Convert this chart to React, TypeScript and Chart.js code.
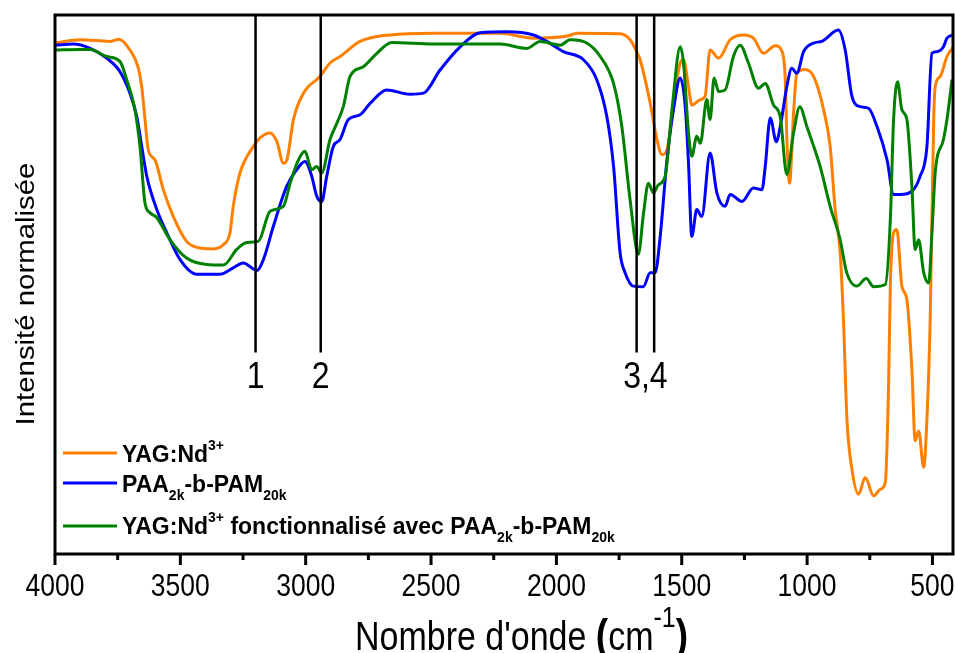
import React, { useEffect, useRef } from 'react';
import { Chart, registerables } from 'chart.js';

Chart.register(...registerables);

// ---------- data (wavenumber in cm-1, normalized intensity 0-100) ----------
const yagWavenumbers = [4000,3900,3781,3745,3701,3669,3654,3641,3628,3601,3568,3528,3475,3435,3368,3328,3302,3289,3262,3209,3182,3142,3115,3089,3075,3049,3009,2943,2903,2863,2783,2663,2492,2224,2093,1957,1917,1746,1706,1678,1666,1626,1599,1579,1559,1533,1506,1493,1473,1460,1426,1407,1387,1353,1307,1254,1214,1174,1127,1100,1087,1081,1070,1054,1041,1008,974,934,908,888,868,855,841,821,795,768,735,708,688,675,668,655,642,622,602,582,569,555,535,522,509,495,489,469,442,416];
const yagIntensity = [94.8,95.4,95.1,95.5,93.5,90.4,86.7,80.6,75.0,73.1,67.6,62.6,58.0,56.9,56.6,57.4,59.6,64.5,70.7,75.6,77.2,78.1,76.5,72.5,73.1,80.6,85.5,88.6,91.1,92.3,95.1,96.3,96.6,96.6,95.7,96.1,96.6,96.5,95.4,93.0,91.7,83.7,76.9,74.1,75.0,83.7,91.1,91.7,86.7,83.3,84.3,84.9,93.5,92.0,95.4,96.3,95.7,92.9,94.3,93.2,88.0,77.5,68.8,81.8,89.2,89.9,88.6,82.4,75.6,63.9,55.9,43.5,25.0,15.7,11.1,14.2,10.8,12.0,13.3,31.2,49.7,59.6,60.2,49.7,47.2,34.3,21.0,22.8,16.1,25.0,43.5,80.6,86.7,88.6,92.3,94.1];

const paaWavenumbers = [4000,3927,3860,3794,3741,3701,3674,3654,3634,3594,3554,3501,3435,3342,3289,3249,3195,3169,3129,3076,3036,3003,2976,2956,2936,2916,2890,2863,2830,2783,2743,2677,2584,2530,2464,2384,2304,2198,2092,2038,1972,1892,1839,1799,1772,1746,1726,1693,1653,1626,1606,1586,1559,1533,1506,1486,1473,1460,1440,1420,1387,1360,1327,1307,1260,1214,1180,1167,1147,1123,1107,1081,1061,1041,1014,974,941,875,848,821,788,755,721,681,655,628,582,549,522,502,482,456,442,416];
const paaIntensity = [94.4,94.6,93.8,92.0,89.5,85.5,81.2,75.6,70.1,63.9,59.6,54.6,51.9,51.9,53.1,54.0,52.6,54.6,60.8,68.2,71.3,72.8,70.1,66.4,65.4,70.1,75.6,76.9,80.6,81.5,83.6,86.1,85.3,85.5,89.8,94.1,96.7,96.9,96.3,95.1,93.2,91.7,88.0,81.2,71.9,55.9,52.2,49.7,49.6,52.2,52.2,58.9,73.1,82.4,88.3,83.0,72.5,58.9,63.9,62.6,74.4,67.0,64.5,66.7,65.4,67.9,67.6,71.9,80.9,76.5,79.3,86.7,90.1,89.2,93.2,94.8,95.1,97.2,93.5,84.9,83.0,82.7,79.3,73.1,66.7,66.7,67.3,70.1,75.6,92.9,93.2,94.1,95.7,96.3];

const funcWavenumbers = [4000,3900,3860,3794,3741,3714,3681,3661,3641,3621,3594,3541,3475,3395,3328,3275,3235,3189,3142,3089,3062,3029,3003,2976,2956,2936,2903,2876,2850,2823,2770,2716,2657,2491,2224,2118,2065,1985,1945,1879,1825,1772,1739,1706,1673,1653,1633,1613,1593,1566,1539,1506,1493,1473,1460,1440,1426,1400,1387,1371,1353,1327,1294,1267,1234,1194,1167,1134,1107,1081,1054,1029,1001,948,908,868,842,802,764,735,688,668,655,639,622,602,582,569,555,535,515,502,489,456,442,422];
const funcIntensity = [93.5,93.6,93.6,92.3,91.4,88.0,82.4,75.6,65.1,63.3,62.4,58.3,54.9,53.7,53.6,56.5,57.8,58.0,63.6,64.5,68.8,73.1,74.7,71.3,71.9,70.7,76.9,79.9,83.0,88.6,90.4,92.9,94.9,94.6,94.6,93.8,95.1,94.4,95.4,94.8,92.3,87.3,79.3,65.7,55.6,63.0,68.8,67.0,68.5,70.1,82.4,94.1,91.1,78.1,73.8,77.5,76.2,84.3,80.6,88.3,85.8,86.1,92.3,94.4,91.1,86.4,87.3,83.3,81.1,70.4,78.1,83.0,79.3,71.9,64.5,58.3,52.2,49.7,51.1,49.6,50.0,62.0,80.6,87.6,82.4,80.6,68.2,56.5,58.3,52.2,50.3,59.6,70.7,76.9,80.6,88.0];

// band markers
const bandPositions = [3200, 2940, 1680, 1610];
const bandTop = 100;
const bandBottom = 37.4;
const bandLabels = ['1', '2', '3,4'];
const bandLabelPositions = [3200, 2940, 1645];
const bandLabelLevel = 32.6;

// axes
const xMax = 4000;
const xMin = 418;
const majorTicks = [4000, 3500, 3000, 2500, 2000, 1500, 1000, 500];
const minorTicks = [3750, 3250, 2750, 2250, 1750, 1250, 750];
const majorTickLabels = ['4000', '3500', '3000', '2500', '2000', '1500', '1000', '500'];

const seriesNames = ['YAG:Nd', 'PAA', 'YAG:Nd fonctionnalisé'];
const seriesColors = ['#ff8000', '#0000ff', '#008000'];

const SANS = '"Liberation Sans", Arial, sans-serif';

type Run = { t: string; k?: 'sub' | 'sup'; bold?: boolean; size?: number };

function drawRuns(
  ctx: CanvasRenderingContext2D,
  x: number,
  baseline: number,
  runs: Run[],
  base: { size: number; small: number; bold: boolean; stretch: number; sub: number; sup: number }
) {
  let cx = x;
  for (const r of runs) {
    const size = r.size ?? (r.k ? base.small : base.size);
    const bold = r.bold ?? base.bold;
    ctx.font = `${bold ? 'bold ' : ''}${size}px ${SANS}`;
    let by = baseline;
    if (r.k === 'sub') by += base.sub;
    if (r.k === 'sup') by -= base.sup;
    ctx.save();
    ctx.translate(cx, by);
    ctx.scale(1, base.stretch);
    ctx.textAlign = 'left';
    ctx.textBaseline = 'alphabetic';
    ctx.fillText(r.t, 0, 0);
    ctx.restore();
    cx += ctx.measureText(r.t).width;
  }
  return cx;
}

const legendRows: { runs: Run[]; lineY: number; baseY: number }[] = [
  { runs: [{ t: 'YAG:Nd' }, { t: '3+', k: 'sup' }], lineY: 453, baseY: 462 },
  {
    runs: [{ t: 'PAA' }, { t: '2k', k: 'sub' }, { t: '-b-PAM' }, { t: '20k', k: 'sub' }],
    lineY: 483,
    baseY: 492,
  },
  {
    runs: [
      { t: 'YAG:Nd' },
      { t: '3+', k: 'sup' },
      { t: ' fonctionnalisé avec PAA' },
      { t: '2k', k: 'sub' },
      { t: '-b-PAM' },
      { t: '20k', k: 'sub' },
    ],
    lineY: 526,
    baseY: 534,
  },
];

const decorPlugin = {
  id: 'decor',
  afterDraw(chart: any) {
    const { ctx, chartArea: a, scales } = chart;
    const xs = scales.x;
    const ys = scales.y;
    ctx.save();
    ctx.fillStyle = '#000';
    ctx.strokeStyle = '#000';

    // frame
    ctx.lineWidth = 3;
    ctx.strokeRect(a.left, a.top, a.right - a.left, a.bottom - a.top);

    // ticks
    ctx.lineWidth = 3;
    ctx.beginPath();
    for (const v of majorTicks) {
      const px = xs.getPixelForValue(v);
      ctx.moveTo(px, a.bottom);
      ctx.lineTo(px, a.bottom + 11);
    }
    for (const v of minorTicks) {
      const px = xs.getPixelForValue(v);
      ctx.moveTo(px, a.bottom);
      ctx.lineTo(px, a.bottom + 6);
    }
    ctx.stroke();

    // tick labels
    ctx.font = `26.5px ${SANS}`;
    majorTicks.forEach((v, i) => {
      const px = xs.getPixelForValue(v);
      ctx.save();
      ctx.translate(px, a.bottom + 33);
      ctx.scale(1, 1.2);
      ctx.textAlign = 'center';
      ctx.textBaseline = 'middle';
      ctx.fillText(majorTickLabels[i], 0, 0);
      ctx.restore();
    });

    // band labels
    ctx.font = `32px ${SANS}`;
    bandLabels.forEach((lab, i) => {
      const px = xs.getPixelForValue(bandLabelPositions[i]);
      const py = ys.getPixelForValue(bandLabelLevel);
      ctx.save();
      ctx.translate(px, py);
      ctx.scale(1, 1.15);
      ctx.textAlign = 'center';
      ctx.textBaseline = 'middle';
      ctx.fillText(lab, 0, 0);
      ctx.restore();
    });

    // y title
    ctx.save();
    ctx.font = `26px ${SANS}`;
    ctx.translate(34, 294);
    ctx.rotate(-Math.PI / 2);
    ctx.scale(1.13, 1);
    ctx.textAlign = 'center';
    ctx.textBaseline = 'alphabetic';
    ctx.fillText('Intensité normalisée', 0, 0);
    ctx.restore();

    // x title
    drawRuns(
      ctx,
      355,
      650,
      [
        { t: "Nombre d'onde " },
        { t: '(', bold: true, size: 37 },
        { t: 'cm' },
        { t: '-1', k: 'sup' },
        { t: ')', bold: true, size: 37 },
      ],
      { size: 34, small: 25, bold: false, stretch: 1.2, sub: 0, sup: 23 }
    );

    // legend
    legendRows.forEach((row, i) => {
      ctx.strokeStyle = seriesColors[i];
      ctx.lineWidth = 3;
      ctx.beginPath();
      ctx.moveTo(63, row.lineY);
      ctx.lineTo(117, row.lineY);
      ctx.stroke();
      ctx.fillStyle = '#000';
      drawRuns(ctx, 122, row.baseY, row.runs, {
        size: 23,
        small: 14,
        bold: true,
        stretch: 1.07,
        sub: 8,
        sup: 12,
      });
    });

    ctx.restore();
  },
};

const toPoints = (xs: number[], ys: number[]) => xs.map((x, i) => ({ x, y: ys[i] }));

export default function App() {
  const ref = useRef<HTMLCanvasElement>(null);

  useEffect(() => {
    const canvas = ref.current;
    if (!canvas) return;

    const seriesDatasets = [
      { label: seriesNames[2], data: toPoints(funcWavenumbers, funcIntensity), color: seriesColors[2], order: 1 },
      { label: seriesNames[1], data: toPoints(paaWavenumbers, paaIntensity), color: seriesColors[1], order: 2 },
      { label: seriesNames[0], data: toPoints(yagWavenumbers, yagIntensity), color: seriesColors[0], order: 3 },
    ].map((d) => ({
      label: d.label,
      data: d.data,
      borderColor: d.color,
      backgroundColor: d.color,
      borderWidth: 3,
      pointRadius: 0,
      cubicInterpolationMode: 'monotone' as const,
      fill: false,
      order: d.order,
    }));

    const bandDatasets = bandPositions.map((p, i) => ({
      label: `band${i}`,
      data: [
        { x: p, y: bandTop },
        { x: p, y: bandBottom },
      ],
      borderColor: '#000',
      backgroundColor: '#000',
      borderWidth: 2.5,
      pointRadius: 0,
      fill: false,
      order: 0,
    }));

    const chart = new Chart(canvas, {
      type: 'line',
      data: { datasets: [...bandDatasets, ...seriesDatasets] as any },
      options: {
        animation: false,
        responsive: false,
        devicePixelRatio: 1,
        events: [],
        layout: { padding: { left: 55, top: 15, right: 2, bottom: 99 } },
        plugins: { legend: { display: false }, tooltip: { enabled: false } },
        scales: {
          x: {
            type: 'linear',
            reverse: true,
            min: xMin,
            max: xMax,
            display: false,
          },
          y: {
            type: 'linear',
            min: 0,
            max: 100,
            display: false,
          },
        },
      },
      plugins: [decorPlugin],
    });

    return () => chart.destroy();
  }, []);

  return (
    <div style={{ position: 'fixed', left: 0, top: 0, width: 955, height: 653, background: '#fff' }}>
      <canvas ref={ref} width={955} height={653} style={{ display: 'block', width: 955, height: 653 }} />
    </div>
  );
}
